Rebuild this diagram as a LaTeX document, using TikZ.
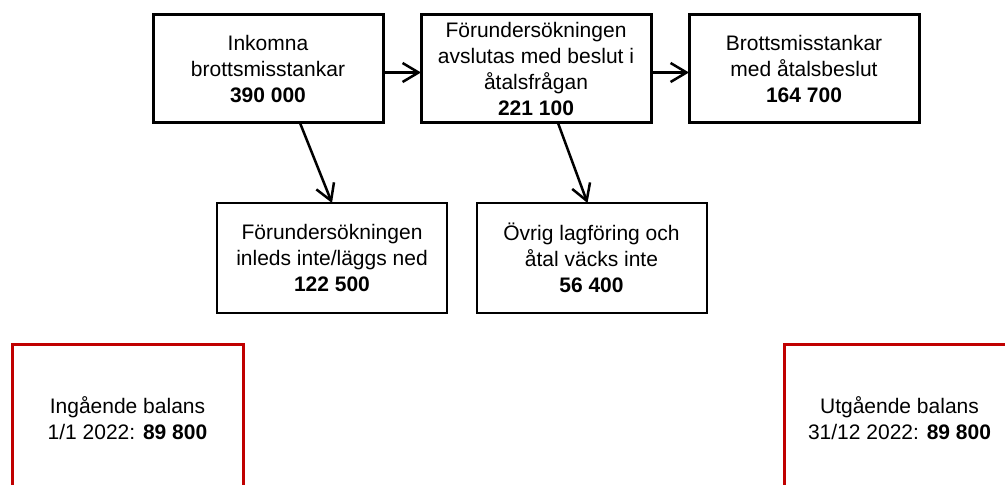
\documentclass[tikz,border=0pt]{standalone}
\usepackage{fontspec}
\setmainfont{Liberation Sans}
\usepackage{tikz}
\usetikzlibrary{positioning,arrows.meta}
\definecolor{balansred}{RGB}{192,0,0}
\tikzset{>={Straight Barb[length=8pt,width=9.5pt]}}

\begin{document}
\begin{tikzpicture}[x=0.5pt,y=-0.5pt,node distance=19pt,
    every node/.style={font=\fontsize{10.5}{13}\selectfont,align=center,outer sep=0pt},
    topbox/.style={draw,line width=1.5pt,minimum width=115pt,minimum height=54pt,inner sep=2pt},
    lowbox/.style={draw,line width=1pt,minimum width=115pt,minimum height=55pt,inner sep=2pt},
    balans/.style={draw=balansred,line width=1.5pt,minimum width=115.5pt,minimum height=73pt,inner sep=2pt},
    flow/.style={->,line width=1.25pt}]
            \clip (0,0) rectangle (1005,485);
            \node[topbox] (inkomna) at (268,69) {Inkomna\\brottsmisstankar\\\textbf{390 000}};
            \node[topbox,right=of inkomna] (avslutas) {Förundersökningen\\avslutas med beslut i\\åtalsfrågan\\\textbf{221 100}};
            \node[topbox,right=of avslutas] (atalsbeslut) {Brottsmisstankar\\med åtalsbeslut\\\textbf{164 700}};
            \node[lowbox] (nedlagd) at (332,258) {Förundersökningen\\inleds inte/läggs ned\\\textbf{122 500}};
            \node[lowbox] (ovrig) at (591.5,258) {Övrig lagföring och\\åtal väcks inte\\\textbf{56 400}};
            \node[balans] (ingaende) at (127.5,418) {Ingående balans\\1/1 2022: \textbf{89 800}};
            \node[balans] (utgaende) at (899.5,418) {Utgående balans\\31/12 2022: \textbf{89 800}};
            \draw[flow] ([yshift=-1.75pt]inkomna.east) -- ([yshift=-1.75pt]avslutas.west);
            \draw[flow] ([yshift=-1.75pt]avslutas.east) -- ([yshift=-1.75pt]atalsbeslut.west);
            \draw[flow] ([xshift=16pt]inkomna.south) -- (nedlagd.north);
            \draw[flow] ([xshift=11pt]avslutas.south) -- ([xshift=-2pt]ovrig.north);
\end{tikzpicture}
\end{document}
